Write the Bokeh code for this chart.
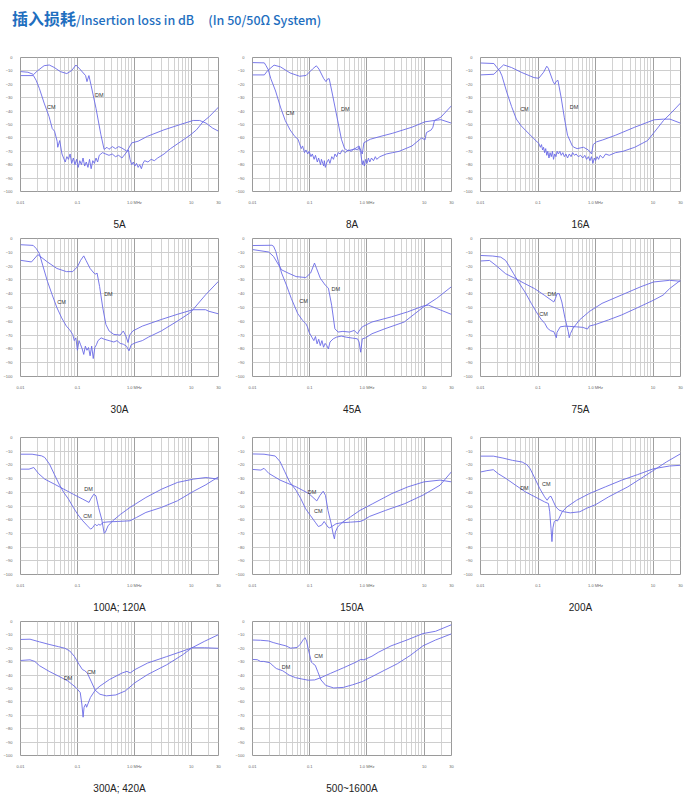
from bokeh.plotting import figure
from bokeh.models import FixedTicker, Div, Range1d, ColumnDataSource
from bokeh.layouts import column, row
from bokeh.embed import file_html
from bokeh.resources import INLINE
from bokeh.core.properties import value

# ---------------- data (frequency MHz, insertion loss dB) ----------------
X_TICKS = [0.01, 0.1, 1.0, 10.0, 30.0]
X_TICK_LABELS = ["0.01", "0.1", "1.0 MHz", "10", "30"]
X_MINOR = [0.02, 0.03, 0.04, 0.05, 0.06, 0.07, 0.08, 0.09,
           0.2, 0.3, 0.4, 0.5, 0.6, 0.7, 0.8, 0.9,
           2, 3, 4, 5, 6, 7, 8, 9, 20]
Y_TICKS = [0, -10, -20, -30, -40, -50, -60, -70, -80, -90, -100]

LABELS = ["5A", "8A", "16A", "30A", "45A", "75A", "100A; 120A", "150A", "200A",
          "300A; 420A", "500~1600A"]

CM_5A = [(0.01,-13.5),(0.0169,-13.5),(0.0188,-17),(0.0214,-23),(0.026,-34),(0.0317,-44),(0.0361,-53),
         (0.0396,-55),(0.044,-62.5),(0.0451,-67),(0.0488,-62),(0.0535,-72),(0.0571,-75),(0.061,-78),
         (0.0652,-74),(0.0695,-76),(0.0743,-72),(0.0793,-79),(0.0847,-75),(0.0904,-80),(0.0966,-76),
         (0.103,-82),(0.110,-77),(0.1175,-80),(0.1254,-75),(0.134,-81),(0.143,-78),(0.153,-82),
         (0.163,-76),(0.174,-83),(0.186,-77),(0.1985,-79),(0.212,-75),(0.226,-78),(0.2415,-73),
         (0.258,-72),(0.275,-71),(0.314,-72),(0.358,-73),(0.408,-72),(0.465,-74),(0.530,-73),
         (0.604,-75),(0.689,-72),(0.785,-69),(0.839,-76),(0.896,-80),(0.957,-78),(1.02,-81),
         (1.09,-79),(1.164,-82),(1.24,-80),(1.327,-83),(1.416,-79),(1.51,-77),(1.73,-78),(1.97,-76),
         (2.24,-77),(2.56,-75),(3.32,-72),(4.31,-68),(6.4,-63),(9.48,-58),(12.3,-54),(16.0,-48),
         (20.8,-44),(30,-37)]
DM_5A = [(0.01,-10.5),(0.0135,-11),(0.017,-12.7),(0.02,-9.8),(0.026,-6.1),(0.032,-5.6),(0.039,-7.4),
         (0.05,-10.5),(0.065,-12),(0.079,-9.8),(0.094,-5.6),(0.11,-8.6),(0.139,-13.5),(0.147,-18),
         (0.159,-13.5),(0.174,-21),(0.212,-38),(0.258,-57.6),(0.294,-68.6),(0.33,-67),(0.358,-68.5),
         (0.41,-66.5),(0.465,-68),(0.53,-66.5),(0.6,-67.5),(0.74,-70),(0.9,-63.7),(1.16,-62.5),
         (1.7,-58.8),(3.3,-54),(6.4,-50),(10.8,-47),(14,-47),(18.2,-49),(23.7,-52.7),(30,-55)]

CM_8A = [(0.01,-3.8),(0.0161,-4),(0.0172,-6),(0.0188,-9),(0.0209,-15.8),(0.0253,-25),(0.0308,-37),
         (0.0373,-47),(0.0453,-54),(0.055,-59),(0.0625,-61),(0.066,-64),(0.0712,-68),(0.075,-66),
         (0.081,-71),(0.086,-69),(0.0922,-72),(0.098,-70),(0.105,-74),(0.111,-72),(0.1194,-76),
         (0.126,-73),(0.1358,-78),(0.143,-75),(0.1545,-80),(0.16,-76),(0.1758,-81),(0.18,-77),
         (0.1876,-82),(0.2,-78),(0.2133,-76),(0.225,-79),(0.2428,-74),(0.26,-76),(0.2763,-72),
         (0.295,-74),(0.3145,-71),(0.34,-72),(0.37,-69),(0.42,-71),(0.47,-69),(0.53,-70),(0.6,-68),
         (0.68,-69),(0.728,-67),(0.777,-71),(0.828,-80),(0.86,-77),(0.9,-81),(0.95,-76),(1.0,-79),
         (1.06,-75),(1.12,-78),(1.2,-75),(1.3,-77),(1.4,-74),(1.48,-76),(1.685,-74),(2.18,-72),
         (2.82,-71),(3.66,-70),(6.12,-66),(9.03,-60),(10.3,-61.5),(10.96,-56),(13.3,-54),(14.2,-52),
         (15.1,-47),(19.6,-44.5),(30,-36)]
DM_8A = [(0.01,-13),(0.0161,-13),(0.01835,-9.8),(0.0238,-5.7),(0.0308,-7),(0.0453,-11.5),(0.0667,-14),
         (0.0864,-13.4),(0.1119,-8.6),(0.1306,-6.2),(0.1449,-8.6),(0.1758,-15.8),(0.1924,-18),
         (0.2052,-16),(0.2188,-15.8),(0.2428,-25),(0.2763,-37),(0.3145,-49),(0.3578,-61),(0.407,-68),
         (0.463,-69.6),(0.6,-68.4),(0.728,-66),(0.828,-72),(0.884,-63.6),(1.143,-61),(1.685,-59),
         (2.82,-56.5),(6.12,-52),(10.3,-48),(15.1,-47),(19.6,-46.4),(30,-49)]

CM_16A = [(0.01,-4.1),(0.0171,-4.5),(0.0195,-7.7),(0.0216,-10),(0.0236,-13.7),(0.0286,-25.8),
          (0.0347,-36.6),(0.042,-46),(0.0509,-51),(0.0617,-54.7),(0.0701,-57),(0.085,-60.7),
          (0.0966,-63),(0.103,-64),(0.11,-67),(0.115,-65),(0.12,-69),(0.125,-67),(0.13,-71),
          (0.136,-68),(0.142,-73),(0.148,-70),(0.155,-75),(0.162,-71),(0.17,-74),(0.178,-70),
          (0.186,-76),(0.195,-72),(0.205,-74),(0.215,-70),(0.226,-72),(0.24,-70),(0.253,-73),
          (0.27,-71),(0.287,-74),(0.305,-72),(0.326,-75),(0.35,-72),(0.375,-74),(0.4,-71),(0.43,-73),
          (0.46,-72),(0.5,-74),(0.55,-73),(0.6,-75),(0.65,-73),(0.7,-76),(0.75,-74),(0.8,-77),
          (0.85,-74),(0.9,-79),(0.95,-75),(1.0,-77),(1.06,-74),(1.13,-76),(1.2,-73),(1.34,-75),
          (1.5,-72),(1.73,-73),(2.23,-71),(3.0,-70),(4.81,-67),(8.03,-62),(10.4,-56),(15.2,-47),
          (20,-42),(30,-34)]
DM_16A = [(0.01,-13),(0.0171,-12.5),(0.0195,-10),(0.0252,-5.5),(0.0347,-7.5),(0.0509,-11),(0.0701,-13.5),
          (0.085,-15),(0.103,-15.5),(0.125,-11),(0.142,-6.5),(0.151,-8),(0.183,-18),(0.1955,-20),
          (0.205,-18),(0.222,-17),(0.2526,-30),(0.287,-45),(0.326,-58),(0.395,-66),(0.422,-67),
          (0.479,-68),(0.619,-67),(0.75,-69),(0.853,-72),(0.91,-65),(1.034,-63),(1.336,-61.5),
          (2.23,-58),(4.81,-52),(10.4,-46.5),(15.2,-46),(19.7,-46),(30,-49)]

CM_30A = [(0.01,-4.5),(0.0167,-5),(0.019,-7.4),(0.0215,-11),(0.0245,-19.3),(0.0297,-31),(0.036,-40.8),
          (0.0435,-50),(0.0528,-57.5),(0.0639,-63.5),(0.0726,-66),(0.0825,-69.5),(0.088,-74),
          (0.0938,-72),(0.1,-81),(0.1066,-74),(0.1137,-77),(0.1212,-80),(0.129,-84),(0.1377,-78),
          (0.1468,-81),(0.1565,-79),(0.1668,-85),(0.1778,-78),(0.1896,-87),(0.202,-79),(0.2154,-77),
          (0.2297,-74),(0.261,-72),(0.2965,-73),(0.3594,-74),(0.4355,-75),(0.495,-74),(0.562,-76),
          (0.639,-76.6),(0.726,-78),(0.804,-81.4),(0.88,-77),(1.066,-75.4),(1.377,-74),(1.778,-71.4),
          (2.965,-67),(5.62,-60),(9.38,-54),(10.66,-51.6),(17.8,-40.8),(30,-31)]
DM_30A = [(0.01,-15.8),(0.0156,-17),(0.0202,-11.7),(0.0297,-17),(0.0435,-21.7),(0.0639,-24),(0.0825,-24),
          (0.1,-20.5),(0.1137,-15.8),(0.129,-12.6),(0.1413,-15.8),(0.1668,-21.7),(0.197,-25.3),
          (0.21,-25.8),(0.221,-25),(0.245,-34.8),(0.278,-50),(0.316,-62.3),(0.3594,-67),(0.4355,-69.5),
          (0.562,-70),(0.639,-67),(0.708,-70.6),(0.774,-75.4),(0.825,-70),(0.938,-67),(1.377,-63.5),
          (2.965,-58.7),(5.62,-55),(10.66,-51.6),(17.8,-51.6),(20.2,-52.7),(30,-54.6)]

CM_45A = [(0.01,-5.1),(0.0218,-4.9),(0.0233,-5.6),(0.0255,-9.3),(0.0283,-16.6),(0.0322,-25),(0.0391,-33.7),
          (0.0476,-43.4),(0.0617,-54.4),(0.0749,-59.3),(0.0854,-61.7),(0.0911,-64),(0.0972,-67.8),
          (0.1037,-70),(0.1107,-72),(0.118,-74),(0.126,-71),(0.1345,-76.3),(0.1435,-73),(0.153,-77.6),
          (0.1634,-74),(0.1744,-78.8),(0.186,-76),(0.1986,-77.6),(0.212,-80),(0.226,-75),(0.2575,-72.7),
          (0.293,-71.5),(0.356,-70.7),(0.433,-71.5),(0.561,-72.2),(0.682,-72.7),(0.728,-75),
          (0.777,-82.4),(0.829,-72.7),(0.944,-72),(1.224,-69),(2.06,-65.4),(4.49,-60.5),(9.79,-49.5),
          (16.5,-43.4),(30,-34.9)]
DM_45A = [(0.01,-8),(0.0192,-9.8),(0.0233,-13),(0.0322,-22.7),(0.0418,-25),(0.0578,-27.6),(0.0854,-28.3),
          (0.1037,-25),(0.1212,-17.8),(0.131,-21.5),(0.153,-28.8),(0.186,-33.7),(0.212,-36),
          (0.2413,-48.3),(0.275,-65.4),(0.313,-67.8),(0.38,-67.3),(0.493,-67.8),(0.60,-66.6),
          (0.682,-69),(0.728,-67),(0.829,-64),(1.224,-60.5),(2.67,-56.8),(5.11,-53.2),(9.79,-48.8),
          (11.9,-48.3),(16.5,-50.7),(30,-55)]

CM_75A = [(0.01,-12.3),(0.0163,-12.7),(0.0225,-13.5),(0.0273,-15.9),(0.031,-19.5),(0.0376,-25.5),
          (0.0457,-31.5),(0.0591,-38.7),(0.0764,-47),(0.0927,-53),(0.1124,-58.4),(0.1312,-61.5),
          (0.1455,-65),(0.1654,-66.8),(0.1882,-67.5),(0.2085,-71.9),(0.214,-68),(0.2434,-64),
          (0.2953,-63.5),(0.358,-63.7),(0.463,-64),(0.599,-64.4),(0.727,-65.6),(0.775,-63.5),
          (1.0,-62.3),(1.678,-59),(2.81,-55.5),(5.34,-50.2),(10.2,-44.7),(14.96,-41),(19.4,-36.3),
          (30,-30.3)]
DM_75A = [(0.01,-16.3),(0.01434,-15.9),(0.01855,-19.5),(0.0273,-25.5),(0.0402,-29),(0.0591,-32.7),
          (0.0869,-36.3),(0.128,-41),(0.1882,-46),(0.2006,-43.5),(0.214,-40),(0.234,-40),(0.2596,-46),
          (0.2953,-58),(0.3357,-67.5),(0.349,-71.9),(0.367,-68.8),(0.407,-65),(0.527,-59),(0.775,-53),
          (1.297,-47),(2.81,-41),(6.08,-35),(10.2,-31.5),(19.4,-30.3),(30,-31)]

CM_100A = [(0.01,-12.2),(0.016,-12.2),(0.0235,-13.4),(0.0267,-14.6),(0.0324,-19.5),(0.0392,-26.8),
           (0.0475,-34),(0.0575,-40.1),(0.0697,-45),(0.0844,-51),(0.1022,-56.4),(0.1238,-60.8),
           (0.15,-64.5),(0.1703,-66.9),(0.1862,-65.7),(0.1936,-64.5),(0.2063,-63.3),(0.2199,-64.5),
           (0.2344,-63.3),(0.25,-64),(0.284,-62),(0.3439,-61.6),(0.5044,-61.3),(0.841,-60.8),
           (1.085,-58.4),(1.592,-54.7),(3.01,-51),(5.71,-46.2),(10.8,-39.4),(18.0,-34.5),(30,-28.7)]
DM_100A = [(0.01,-23.1),(0.0141,-23.1),(0.0171,-21.9),(0.0207,-26.3),(0.0267,-30.4),(0.0392,-34),
           (0.0575,-37.7),(0.0844,-41.4),(0.1238,-45),(0.1598,-47.4),(0.1703,-45),(0.1936,-41.4),
           (0.2117,-42.6),(0.2344,-51),(0.2664,-59.6),(0.2951,-70),(0.3104,-69),(0.3439,-64.5),
           (0.4164,-60.8),(0.573,-56),(0.841,-51),(1.592,-43.8),(3.01,-37.7),(5.71,-32.8),(10.8,-30.4),
           (18.0,-29.2),(30,-30.4)]

CM_150A = [(0.01,-12),(0.0159,-12.2),(0.0249,-13.5),(0.0303,-17.6),(0.0367,-25),(0.0445,-32.4),
           (0.0576,-38.5),(0.0698,-44.6),(0.0847,-52),(0.1027,-56.9),(0.1246,-61.8),(0.1417,-65),
           (0.1612,-64),(0.1787,-61.3),(0.1905,-63),(0.2085,-65.4),(0.2224,-66),(0.2434,-65),
           (0.2877,-63),(0.349,-62.3),(0.5135,-61.8),(0.755,-61.3),(0.859,-60.5),(1.111,-57.6),
           (2.115,-53.2),(4.58,-48.3),(9.91,-41.7),(18.9,-34.8),(30,-25)]
DM_150A = [(0.01,-23.3),(0.014,-23.8),(0.0159,-22.5),(0.0193,-26.2),(0.0303,-31.1),(0.0576,-36),
           (0.0963,-40.9),(0.1329,-46.3),(0.1512,-42.2),(0.172,-39.2),(0.1882,-42.2),(0.2085,-53.2),
           (0.2371,-63),(0.2563,-70.3),(0.27,-74),(0.2805,-69),(0.3068,-65.4),(0.3722,-61.8),
           (0.5135,-58),(0.755,-53.2),(1.264,-48.3),(2.735,-40.9),(5.21,-36),(9.91,-32.4),(18.9,-31.1),
           (30,-32.4)]

CM_200A = [(0.01,-13.6),(0.0167,-13.6),(0.0245,-15),(0.0361,-16.7),(0.053,-17.9),(0.0642,-19.9),
           (0.073,-22.8),(0.0885,-30),(0.1073,-37.3),(0.13,-43.3),(0.1442,-45.8),(0.1577,-43.3),
           (0.1681,-42.9),(0.1863,-47),(0.2038,-50.6),(0.2317,-53),(0.2809,-54.2),(0.363,-55),
           (0.5333,-54.2),(0.689,-51.8),(1.013,-48.9),(1.692,-43.3),(3.65,-36),(6.1,-30),(10.2,-24),
           (17.0,-17.9),(30,-11.9)]
DM_200A = [(0.01,-25.2),(0.0129,-24.2),(0.0167,-23.5),(0.0203,-26.4),(0.0279,-30),(0.041,-34.9),
           (0.0603,-39.7),(0.0885,-43.3),(0.13,-47),(0.1518,-48.2),(0.1597,-54.2),(0.1681,-66.3),
           (0.1747,-76),(0.1816,-66),(0.1911,-61.5),(0.2038,-60.3),(0.2173,-61),(0.2317,-59),
           (0.2634,-54.2),(0.3193,-50.6),(0.469,-45.8),(0.784,-40.9),(1.488,-36),(2.83,-31.2),
           (5.37,-27.1),(10.2,-22.8),(19.4,-20.8),(30,-20.3)]

CM_300A = [(0.01,-13.4),(0.0147,-13.2),(0.0216,-15.2),(0.0318,-17.1),(0.0467,-18.8),(0.0604,-20),
           (0.0733,-22),(0.0889,-26.2),(0.1078,-32.3),(0.1225,-35.9),(0.1341,-36.7),(0.1486,-38.4),
           (0.1734,-44.5),(0.2048,-51.3),(0.2484,-54.3),(0.3211,-55.5),(0.4722,-54.8),(0.694,-51.8),
           (1.021,-45.7),(1.707,-39.6),(3.69,-32.3),(7.01,-24.9),(10.3,-19.6),(17.2,-14.7),(30,-9.8)]
DM_300A = [(0.01,-29.1),(0.0147,-28.6),(0.0178,-29.8),(0.0216,-33),(0.0318,-37.2),(0.0467,-40.8),
           (0.0687,-44.5),(0.0947,-49.4),(0.112,-53),(0.1194,-61.6),(0.1257,-71.4),(0.1307,-64),
           (0.1393,-61.6),(0.1448,-64),(0.1524,-61.6),(0.169,-56.7),(0.2048,-51.3),(0.2484,-48.2),
           (0.3652,-43.3),(0.6105,-38.4),(0.740,-37.2),(0.842,-38.4),(1.021,-35.9),(1.707,-31),
           (3.69,-26.2),(7.98,-21.3),(10.3,-19.6),(17.2,-19.6),(30,-20)]

CM_500A = [(0.01,-13.8),(0.0138,-14),(0.019,-14.5),(0.023,-15.7),(0.0297,-17),(0.0384,-18.2),
           (0.0465,-19.9),(0.0601,-19.4),(0.0683,-17),(0.0777,-13.3),(0.0828,-12.1),(0.0883,-14.5),
           (0.0941,-20.6),(0.1004,-25.4),(0.107,-30.3),(0.114,-31.5),(0.1249,-32.7),(0.1383,-37.5),
           (0.1572,-43.6),(0.1905,-47.7),(0.2624,-49.6),(0.3855,-49.2),(0.566,-47.2),(0.8315,-44.8),
           (1.222,-41.2),(2.04,-36.3),(3.4,-31.5),(5.68,-25.4),(9.49,-18.2),(15.8,-13.8),(30,-9.2)]
DM_500A = [(0.01,-28.3),(0.0121,-28.5),(0.0138,-29.8),(0.0157,-29.8),(0.0202,-30.8),(0.023,-33.2),
           (0.0261,-35.1),(0.0338,-36.8),(0.0436,-40),(0.0564,-41.9),(0.0729,-42.9),(0.0941,-43.8),
           (0.1217,-43.6),(0.1572,-41.9),(0.231,-38.7),(0.3855,-34.6),(0.644,-30.3),(0.78,-28.3),
           (0.887,-28.6),(1.222,-25.9),(1.578,-23),(2.635,-18.2),(5.0,-13.8),(9.49,-9),(15.8,-7.3),
           (30,-2.4)]

# positions of the "CM" / "DM" annotations (MHz, dB)
CM_TEXT = [(0.0347,-37),(0.0453,-41.6),(0.058,-38.5),(0.0528,-46.3),(0.078,-45.4),(0.125,-55),
           (0.15,-57.2),(0.1417,-53.7),(0.139,-33.7),(0.176,-37.9),(0.142,-25.9)]
DM_TEXT = [(0.242,-28),(0.418,-38.5),(0.422,-36.6),(0.35,-40.3),(0.286,-36.8),(0.174,-40),
           (0.156,-37.7),(0.11,-39.7),(0.058,-36.6),(0.0687,-42),(0.0384,-33.9)]

CM_ALL = [CM_5A, CM_8A, CM_16A, CM_30A, CM_45A, CM_75A, CM_100A, CM_150A, CM_200A, CM_300A, CM_500A]
DM_ALL = [DM_5A, DM_8A, DM_16A, DM_30A, DM_45A, DM_75A, DM_100A, DM_150A, DM_200A, DM_300A, DM_500A]

# ---------------- styling / layout ----------------
LINE_COLOR = "#6a6ae6"
FRAME_W = [206, 207, 208]
COL_BORDER_RIGHT = [14, 9, 4]
BORDER_LEFT = 12
FRAME_H = 138
ROW_BOTTOM = [37, 55, 40, 37]
BORDER_TOP = 6


def make_panel(i):
    r, c = divmod(i, 3)
    w = BORDER_LEFT + FRAME_W[c] + COL_BORDER_RIGHT[c]
    h = BORDER_TOP + FRAME_H + ROW_BOTTOM[r]
    p = figure(width=w, height=h, x_axis_type="log",
               x_range=Range1d(0.01, 30), y_range=Range1d(-100, 0),
               output_backend="svg", toolbar_location=None,
               min_border_left=BORDER_LEFT, min_border_right=COL_BORDER_RIGHT[c],
               min_border_top=BORDER_TOP, min_border_bottom=ROW_BOTTOM[r])
    p.outline_line_color = "#9a9a9a"
    p.background_fill_color = "white"
    p.border_fill_color = "white"

    xt = FixedTicker(ticks=X_TICKS, minor_ticks=X_MINOR)
    p.xaxis.ticker = xt
    p.xgrid.ticker = xt
    p.xaxis.major_label_overrides = {t: l for t, l in zip(X_TICKS, X_TICK_LABELS)}
    yt = FixedTicker(ticks=Y_TICKS)
    p.yaxis.ticker = yt
    p.ygrid.ticker = yt

    p.xgrid.grid_line_color = "#a0a0a0"
    p.xgrid.minor_grid_line_color = "#d2d2d2"
    p.ygrid.grid_line_color = "#cecece"

    for ax in (p.xaxis, p.yaxis):
        ax.axis_line_color = None
        ax.major_tick_line_color = None
        ax.minor_tick_line_color = None
        ax.major_label_text_font = "Liberation Sans"
        ax.major_label_text_font_size = "4px"
        ax.major_label_text_color = "#666666"
        ax.major_label_standoff = 2
    p.xaxis.axis_label = LABELS[i]
    p.xaxis.axis_label_text_font = "Liberation Sans"
    p.xaxis.axis_label_text_font_style = "normal"
    p.xaxis.axis_label_text_font_size = "10px"
    p.xaxis.axis_label_text_color = "#222222"
    p.xaxis.axis_label_standoff = 11

    for curve in (CM_ALL[i], DM_ALL[i]):
        f = [a for a, _ in curve]
        d = [b for _, b in curve]
        p.line(f, d, line_color=LINE_COLOR, line_width=0.9)

    src = ColumnDataSource(dict(x=[CM_TEXT[i][0], DM_TEXT[i][0]],
                                y=[CM_TEXT[i][1], DM_TEXT[i][1]],
                                t=["CM", "DM"]))
    p.text("x", "y", text="t", source=src, text_font=value("Liberation Sans"),
           text_font_size="5.5px", text_color="#333333",
           text_align="center", text_baseline="middle")
    return p


panels = [make_panel(i) for i in range(11)]

title = Div(
    text=('<div style="padding:2px 0 0 7px;white-space:nowrap;color:#1f6fbf;'
          'font-family:\'Noto Sans CJK SC\';">'
          '<span style="font-size:16px;font-weight:bold;">插入损耗</span>'
          '<span style="font-size:12.5px;font-weight:500;">/Insertion loss in dB</span>'
          '<span style="font-size:12.5px;font-weight:500;margin-left:14px;">(In 50/50Ω System)</span></div>'),
    width=684, height=41)

layout = column(title,
                row(panels[0], panels[1], panels[2]),
                row(panels[3], panels[4], panels[5]),
                row(panels[6], panels[7], panels[8]),
                row(panels[9], panels[10]))

open("out.html", "w").write(file_html(layout, INLINE))
